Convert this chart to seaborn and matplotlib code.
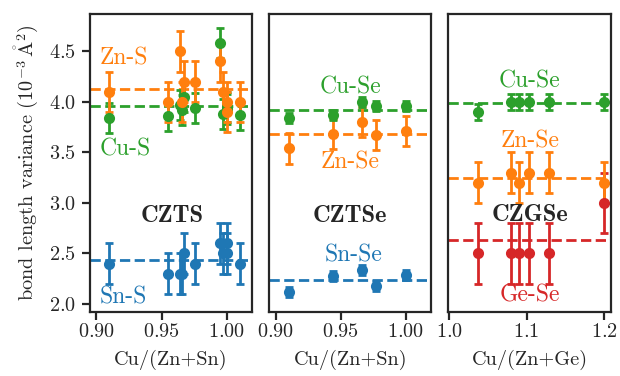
import matplotlib
matplotlib.use('Agg')
import matplotlib.pyplot as plt
import seaborn as sns

# CZTS panel
czts_x = [0.910, 0.955, 0.964, 0.966, 0.967, 0.976, 0.995, 0.997, 1.000, 1.000, 1.010]
czts_zns = [4.1, 4.0, 4.5, 4.0, 4.2, 4.2, 4.4, 4.1, 4.0, 3.9, 4.0]
czts_cus = [3.84, 3.86, 3.97, 3.92, 4.05, 3.94, 4.58, 3.88, 3.93, 3.95, 3.87]
czts_sns = [2.4, 2.3, 2.3, 2.3, 2.5, 2.4, 2.6, 2.5, 2.6, 2.5, 2.4]
czts_err = {'Zn-S': 0.2, 'Cu-S': 0.15, 'Sn-S': 0.2}
czts_mean = {'Zn-S': 4.13, 'Cu-S': 3.96, 'Sn-S': 2.44}

# CZTSe panel
cztse_x = [0.910, 0.944, 0.966, 0.977, 1.000]
cztse_cuse = [3.84, 3.87, 4.00, 3.96, 3.96]
cztse_znse = [3.54, 3.68, 3.80, 3.67, 3.71]
cztse_snse = [2.12, 2.28, 2.34, 2.18, 2.29]
cztse_err = {'Cu-Se': 0.05, 'Zn-Se': 0.15, 'Sn-Se': 0.05}
cztse_mean = {'Cu-Se': 3.92, 'Zn-Se': 3.68, 'Sn-Se': 2.24}

# CZGSe panel
czgse_x = [1.037, 1.080, 1.090, 1.103, 1.129, 1.200]
czgse_cuse = [3.90, 4.00, 4.00, 4.00, 4.00, 4.00]
czgse_znse = [3.20, 3.30, 3.20, 3.30, 3.30, 3.20]
czgse_gese = [2.50, 2.50, 2.50, 2.50, 2.50, 3.00]
czgse_err = {'Cu-Se': 0.08, 'Zn-Se': 0.2, 'Ge-Se': 0.3}
czgse_mean = {'Cu-Se': 3.99, 'Zn-Se': 3.25, 'Ge-Se': 2.63}

FS = 7.3
TS = 8.5
BS = 8.8

sns.set_theme(style='ticks')
plt.rcParams['font.family'] = ['cmr10', 'DejaVu Serif']
plt.rcParams['mathtext.fontset'] = 'cm'
plt.rcParams['axes.formatter.use_mathtext'] = True
plt.rcParams['font.size'] = FS
plt.rcParams['axes.labelsize'] = FS
plt.rcParams['xtick.labelsize'] = FS
plt.rcParams['ytick.labelsize'] = FS
plt.rcParams['axes.linewidth'] = 0.8
plt.rcParams['xtick.major.width'] = 0.8
plt.rcParams['ytick.major.width'] = 0.8
plt.rcParams['xtick.major.size'] = 3
plt.rcParams['ytick.major.size'] = 3
plt.rcParams['xtick.major.pad'] = 1
plt.rcParams['ytick.major.pad'] = 2
plt.rcParams['axes.labelpad'] = 3

pal = sns.color_palette('tab10')
blue, orange, green, red = pal[0], pal[1], pal[2], pal[3]


def draw_series(ax, x, y, err, mean, color):
    ax.errorbar(x, y, yerr=err, fmt='o', color=color, ms=3, elinewidth=1,
                capsize=1.5, capthick=1)
    ax.axhline(mean, color=color, ls='--', lw=1, zorder=0)


fig, axes = plt.subplots(1, 3, figsize=(6.2 / 2, 3.76 / 2), dpi=200, sharey=True)
fig.subplots_adjust(left=0.145, right=0.985, bottom=0.17, top=0.963, wspace=0.105)
ax1, ax2, ax3 = axes

draw_series(ax1, czts_x, czts_sns, czts_err['Sn-S'], czts_mean['Sn-S'], blue)
draw_series(ax1, czts_x, czts_cus, czts_err['Cu-S'], czts_mean['Cu-S'], green)
draw_series(ax1, czts_x, czts_zns, czts_err['Zn-S'], czts_mean['Zn-S'], orange)
ax1.text(0.9023, 4.43, 'Zn-S', color=orange, fontsize=TS, va='center', ha='left')
ax1.text(0.9023, 3.53, 'Cu-S', color=green, fontsize=TS, va='center', ha='left')
ax1.text(0.9023, 2.06, 'Sn-S', color=blue, fontsize=TS, va='center', ha='left')
ax1.text(0.958, 2.87, 'CZTS', family='cmb10', fontsize=BS, va='center', ha='center')

draw_series(ax2, cztse_x, cztse_snse, cztse_err['Sn-Se'], cztse_mean['Sn-Se'], blue)
draw_series(ax2, cztse_x, cztse_znse, cztse_err['Zn-Se'], cztse_mean['Zn-Se'], orange)
draw_series(ax2, cztse_x, cztse_cuse, cztse_err['Cu-Se'], cztse_mean['Cu-Se'], green)
ax2.text(0.957, 4.14, 'Cu-Se', color=green, fontsize=TS, va='center', ha='center')
ax2.text(0.957, 3.40, 'Zn-Se', color=orange, fontsize=TS, va='center', ha='center')
ax2.text(0.957, 2.87, 'CZTSe', family='cmb10', fontsize=BS, va='center', ha='center')
ax2.text(0.960, 2.48, 'Sn-Se', color=blue, fontsize=TS, va='center', ha='center')

draw_series(ax3, czgse_x, czgse_gese, czgse_err['Ge-Se'], czgse_mean['Ge-Se'], red)
draw_series(ax3, czgse_x, czgse_znse, czgse_err['Zn-Se'], czgse_mean['Zn-Se'], orange)
draw_series(ax3, czgse_x, czgse_cuse, czgse_err['Cu-Se'], czgse_mean['Cu-Se'], green)
ax3.text(1.104, 4.20, 'Cu-Se', color=green, fontsize=TS, va='center', ha='center')
ax3.text(1.104, 3.61, 'Zn-Se', color=orange, fontsize=TS, va='center', ha='center')
ax3.text(1.104, 2.88, 'CZGSe', family='cmb10', fontsize=BS, va='center', ha='center')
ax3.text(1.104, 2.08, 'Ge-Se', color=red, fontsize=TS, va='center', ha='center')

ax1.set_ylim(1.92, 4.87)
ax1.set_yticks([2.0, 2.5, 3.0, 3.5, 4.0, 4.5])
ax1.set_ylabel(r'bond length variance ($10^{-3}\,\mathring{\mathrm{A}}^2$)')
for ax in (ax1, ax2):
    ax.set_xlim(0.895, 1.0195)
    ax.set_xticks([0.90, 0.95, 1.00])
    ax.set_xlabel('Cu/(Zn+Sn)')
ax3.set_xlim(0.999, 1.2086)
ax3.set_xticks([1.0, 1.1, 1.2])
ax3.set_xlabel('Cu/(Zn+Ge)')
for ax in (ax2, ax3):
    ax.tick_params(left=False, labelleft=False)

plt.savefig('out.png', dpi=200)
